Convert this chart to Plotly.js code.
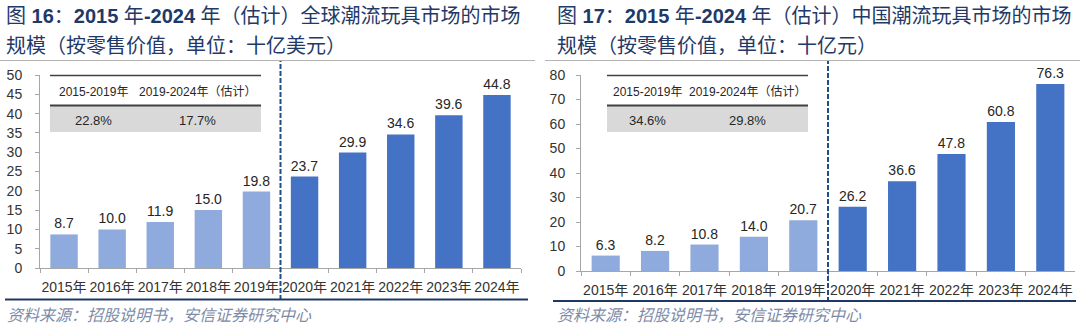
<!DOCTYPE html>
<html>
<head>
<meta charset="utf-8">
<script src="https://cdn.plot.ly/plotly-3.0.1.min.js"></script>
<style>
  html, body { margin: 0; padding: 0; background: #ffffff; }
  #chart { width: 1080px; height: 328px; }
</style>
</head>
<body>
<div id="chart"></div>
<script>
// ---------------- data ----------------
const years = ['2015年', '2016年', '2017年', '2018年', '2019年', '2020年', '2021年', '2022年', '2023年', '2024年'];
const globalMarket = [8.7, 10.0, 11.9, 15.0, 19.8, 23.7, 29.9, 34.6, 39.6, 44.8];
const chinaMarket = [6.3, 8.2, 10.8, 14.0, 20.7, 26.2, 36.6, 47.8, 60.8, 76.3];
const periodType = ['实际', '实际', '实际', '实际', '实际', '估计', '估计', '估计', '估计', '估计'];
const cagrPeriods = ['2015-2019年', '2019-2024年（估计）'];
const globalCagr = ['22.8%', '17.7%'];
const chinaCagr = ['34.6%', '29.8%'];
const leftTitle = ['图 <b>16</b>：<b>2015</b> 年<b>-2024</b> 年（估计）全球潮流玩具市场的市场', '规模（按零售价值，单位：十亿美元）'];
const rightTitle = ['图 <b>17</b>：<b>2015</b> 年<b>-2024</b> 年（估计）中国潮流玩具市场的市场', '规模（按零售价值，单位：十亿元）'];
const sourceText = '资料来源：招股说明书，安信证券研究中心';

// ---------------- style ----------------
const W = 1080, H = 328;
const px = x => x / W;
const py = y => 1 - y / H;
const LIGHT = '#8FAADC', DARK = '#4472C4';
const FONT = 'Liberation Sans, Arial, Noto Sans CJK SC, sans-serif';
const TITLE_COLOR = '#1F3A68';
const barColors = periodType.map(p => p === '实际' ? LIGHT : DARK);

function barTrace(vals, xa, ya) {
  return {
    type: 'bar', x: years, y: vals, xaxis: xa, yaxis: ya,
    marker: { color: barColors, line: { width: 0 } },
    text: vals.map(v => v.toFixed(1)), textposition: 'outside',
    textfont: { family: FONT, size: 14, color: '#262626' },
    constraintext: 'none', cliponaxis: false, hoverinfo: 'skip'
  };
}

const xAxisBase = {
  type: 'category', showgrid: false, zeroline: false,
  showline: true, linecolor: '#a6a6a6', linewidth: 1,
  ticks: 'outside', tickson: 'boundaries', ticklen: 4, tickcolor: '#a6a6a6',
  tickfont: { family: FONT, size: 14, color: '#333333' }, tickangle: 0,
  ticklabelstandoff: 6, fixedrange: true
};
const yAxisBase = {
  showgrid: false, zeroline: false,
  showline: true, linecolor: '#a6a6a6', linewidth: 1,
  ticks: 'outside', ticklen: 4, tickcolor: '#a6a6a6',
  tickfont: { family: FONT, size: 14, color: '#333333' },
  fixedrange: true
};

const layout = {
  width: W, height: H,
  margin: { l: 0, r: 0, t: 0, b: 0 },
  paper_bgcolor: '#ffffff', plot_bgcolor: 'rgba(0,0,0,0)',
  showlegend: false, bargap: 0.43,
  xaxis: Object.assign({}, xAxisBase, { domain: [px(40), px(521)], anchor: 'y' }),
  yaxis: Object.assign({}, yAxisBase, { domain: [py(268), py(75)], range: [0, 50], dtick: 5, anchor: 'x', ticklabelstandoff: 10 }),
  xaxis2: Object.assign({}, xAxisBase, { domain: [px(581), px(1075)], anchor: 'y2' }),
  yaxis2: Object.assign({}, yAxisBase, { domain: [py(271), py(75)], range: [0, 80], dtick: 10, anchor: 'x2', ticklabelstandoff: 8 }),
  shapes: [], annotations: []
};

// separators & frame lines
layout.shapes.push(
  { type: 'line', xref: 'paper', yref: 'paper', x0: px(0), x1: px(535), y0: py(60.5), y1: py(60.5), line: { color: '#b4b4b4', width: 1 } },
  { type: 'line', xref: 'paper', yref: 'paper', x0: px(545), x1: px(1080), y0: py(60.5), y1: py(60.5), line: { color: '#b4b4b4', width: 1 } },
  { type: 'line', xref: 'x', yref: 'paper', x0: 4.5, x1: 4.5, y0: py(300), y1: py(61), line: { color: '#1F4E8C', width: 2, dash: '5px,2px' } },
  { type: 'line', xref: 'x2', yref: 'paper', x0: 4.5, x1: 4.5, y0: py(302), y1: py(61), line: { color: '#1F4E8C', width: 2, dash: '5px,2px' } },
  { type: 'line', xref: 'paper', yref: 'paper', x0: px(5), x1: px(528), y0: py(299.5), y1: py(299.5), line: { color: '#1F3864', width: 2 } },
  { type: 'line', xref: 'paper', yref: 'paper', x0: px(553), x1: px(1076), y0: py(301), y1: py(301), line: { color: '#1F3864', width: 2 } }
);

// inset CAGR tables
function inset(x0, x1, c1, c2, vals) {
  layout.shapes.push(
    { type: 'rect', xref: 'paper', yref: 'paper', x0: px(x0), x1: px(x1), y0: py(132), y1: py(106), fillcolor: '#d9d9d9', line: { width: 0 }, layer: 'below' },
    { type: 'line', xref: 'paper', yref: 'paper', x0: px(x0), x1: px(x1), y0: py(75.5), y1: py(75.5), line: { color: '#404040', width: 1.5 } },
    { type: 'line', xref: 'paper', yref: 'paper', x0: px(x0), x1: px(x1), y0: py(105.5), y1: py(105.5), line: { color: '#404040', width: 2 } }
  );
  [c1, c2].forEach((cx, i) => {
    layout.annotations.push(
      { xref: 'paper', yref: 'paper', x: px(cx), y: py(92), text: cagrPeriods[i], showarrow: false, xanchor: 'center', yanchor: 'middle', font: { family: FONT, size: 12, color: '#262626' } },
      { xref: 'paper', yref: 'paper', x: px(cx), y: py(120), text: vals[i], showarrow: false, xanchor: 'center', yanchor: 'middle', font: { family: FONT, size: 13, color: '#262626' } }
    );
  });
}
inset(50, 261, 93, 197, globalCagr);
inset(607, 808, 647, 747, chinaCagr);

// titles
function title(x, lines) {
  lines.forEach((t, i) => layout.annotations.push({
    xref: 'paper', yref: 'paper', x: px(x), y: py(i === 0 ? 16 : 46), text: t, showarrow: false,
    xanchor: 'left', yanchor: 'middle', font: { family: 'Liberation Sans, Noto Sans CJK SC, sans-serif', size: 20, color: TITLE_COLOR }
  }));
}
title(4, leftTitle);
title(555, rightTitle);

// sources
[5, 555].forEach(x => layout.annotations.push({
  xref: 'paper', yref: 'paper', x: px(x), y: py(314), text: sourceText, showarrow: false,
  xanchor: 'left', yanchor: 'middle', font: { family: 'Noto Sans CJK SC, sans-serif', size: 16, color: '#7D8BA8', style: 'italic' }
}));

Plotly.newPlot('chart', [barTrace(globalMarket, 'x', 'y'), barTrace(chinaMarket, 'x2', 'y2')], layout, { staticPlot: true, displayModeBar: false });
</script>
</body>
</html>
